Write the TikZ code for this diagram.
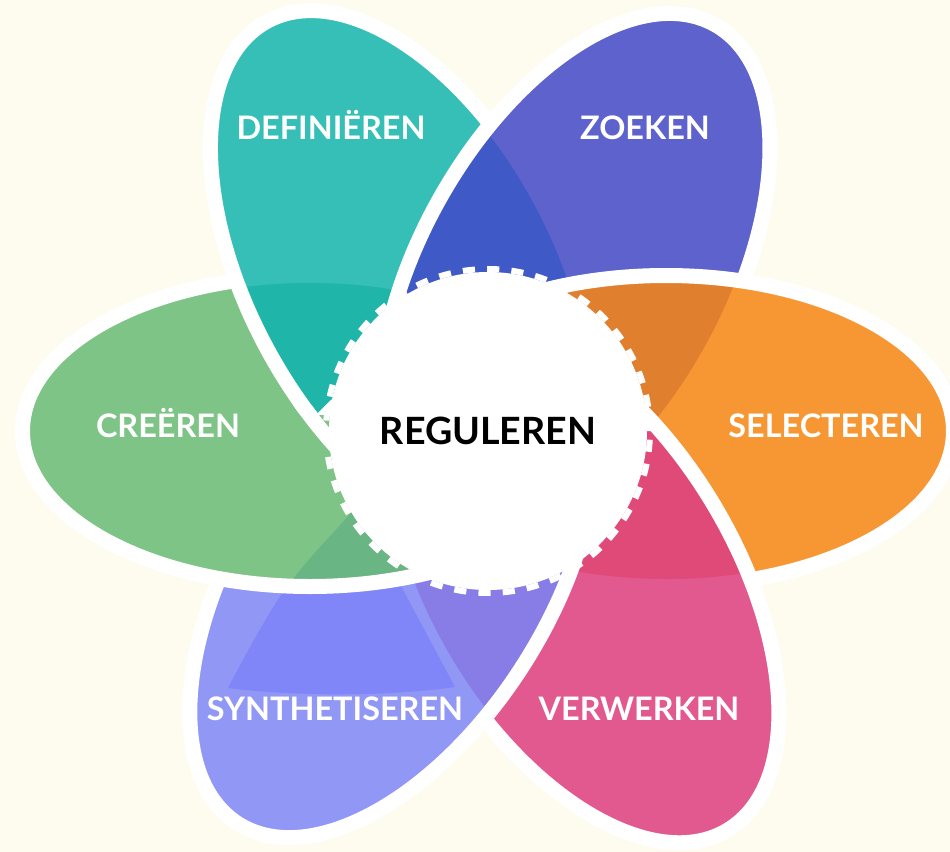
\documentclass[tikz,border=0pt]{standalone}
\usepackage{fontspec}
\setmainfont{Lato}
\usetikzlibrary{calc}

\definecolor{bgcream}{HTML}{FEFCEF}
\definecolor{creL}{HTML}{7EC487}
\definecolor{creD}{HTML}{6AB584}
\definecolor{defL}{HTML}{35BFB7}
\definecolor{defD}{HTML}{1FB5A8}
\definecolor{zoekL}{HTML}{5D62CC}
\definecolor{zoekD}{HTML}{3F5AC6}
\definecolor{selL}{HTML}{F79734}
\definecolor{selD}{HTML}{E07F2E}
\definecolor{verwL}{HTML}{E25990}
\definecolor{verwD}{HTML}{E04A78}
\definecolor{synL}{HTML}{9197F5}
\definecolor{synM}{HTML}{8085F7}
\definecolor{synD}{HTML}{887DE6}

\tikzset{
  % petal outline (middle of the rim) and inner edge
  outer/.style={x radius=287.5, y radius=155.5},
  inner/.style={x radius=280, y radius=148},
  rim/.style={draw=white, line width=7.5pt},
  lbl/.style={text=white, anchor=base, font=\bfseries\fontsize{16.2}{19}\selectfont},
  teeth/.style={draw=white, line width=3pt, dash pattern=on 6.08pt off 6.08pt},
}

\begin{document}
\begin{tikzpicture}[x=0.5pt, y=0.5pt]
    \fill[bgcream] (0,0) rectangle (950,-852);
    \useasboundingbox (0,0) rectangle (950,-852);
    \coordinate (C) at (488,-431);
    % petal centres
    \coordinate (pCre) at ($(C)+(180:178)$);
    \coordinate (pDef) at ($(C)+(118.3:178)$);
    \coordinate (pZoek) at ($(C)+(60.8:178)$);
    \coordinate (pSel) at ($(C)+(0:178)$);
    \coordinate (pVerw) at ($(C)+(-59:178)$);
    \coordinate (pSyn) at ($(C)+(-122.5:178)$);

    % CREEREN (bottom layer)
    \fill[creL, rotate around={180:(pCre)}] (pCre) ellipse [outer];
    \draw[rim, rotate around={180:(pCre)}] (pCre) ellipse [outer];

    % DEFINIEREN over CREEREN
    \fill[defL, rotate around={118.3:(pDef)}] (pDef) ellipse [outer];
    \begin{scope}
        \clip[rotate around={118.3:(pDef)}] (pDef) ellipse [outer];
        \fill[defD, rotate around={180:(pCre)}] (pCre) ellipse [inner];
    \end{scope}
    \draw[rim, rotate around={118.3:(pDef)}] (pDef) ellipse [outer];

    % ZOEKEN over DEFINIEREN
    \fill[zoekL, rotate around={60.8:(pZoek)}] (pZoek) ellipse [outer];
    \begin{scope}
        \clip[rotate around={60.8:(pZoek)}] (pZoek) ellipse [outer];
        \fill[zoekD, rotate around={118.3:(pDef)}] (pDef) ellipse [inner];
    \end{scope}
    \draw[rim, rotate around={60.8:(pZoek)}] (pZoek) ellipse [outer];

    % SELECTEREN over ZOEKEN
    \fill[selL] (pSel) ellipse [outer];
    \begin{scope}
        \clip (pSel) ellipse [outer];
        \fill[selD, rotate around={60.8:(pZoek)}] (pZoek) ellipse [inner];
    \end{scope}
    \draw[rim] (pSel) ellipse [outer];

    % VERWERKEN over SELECTEREN
    \fill[verwL, rotate around={-59:(pVerw)}] (pVerw) ellipse [outer];
    \begin{scope}
        \clip[rotate around={-59:(pVerw)}] (pVerw) ellipse [outer];
        \fill[verwD] (pSel) ellipse [inner];
    \end{scope}
    \draw[rim, rotate around={-59:(pVerw)}] (pVerw) ellipse [outer];

    % SYNTHETISEREN over VERWERKEN
    \fill[synL, rotate around={-122.5:(pSyn)}] (pSyn) ellipse [outer];
    \begin{scope}
        \clip[rotate around={-122.5:(pSyn)}] (pSyn) ellipse [outer];
        \fill[synD, rotate around={-59:(pVerw)}] (pVerw) ellipse [inner];
        \fill[synM] plot[smooth] coordinates {(372,-488) (342,-523) (312,-556) (283,-592) (255,-638) (228,-688)}
            .. controls (300,-697) and (390,-696) .. (455,-687) -- (401,-586) -- (445,-570) -- (440,-500) -- cycle;
    \end{scope}
    \draw[rim, rotate around={-122.5:(pSyn)}] (pSyn) ellipse [outer];

    % CREEREN again, lower half over SYNTHETISEREN
    \begin{scope}
        \clip (0,-415) -- (345,-415) -- (345,-431) -- (950,-431) -- (950,-852) -- (0,-852) -- cycle;
        \fill[creL, rotate around={180:(pCre)}] (pCre) ellipse [outer];
        \begin{scope}
            \clip[rotate around={180:(pCre)}] (pCre) ellipse [outer];
            \fill[creD] plot[smooth] coordinates {(372,-488) (342,-523) (312,-556) (283,-592) (255,-638) (228,-688)}
                .. controls (300,-697) and (390,-696) .. (455,-687) -- (401,-586) -- (445,-570) -- (440,-500) -- cycle;
        \end{scope}
        \draw[rim, rotate around={180:(pCre)}] (pCre) ellipse [outer];
    \end{scope}
    % tip of the DEFINIEREN rim stays on top
    \begin{scope}
        \clip (290,-405) rectangle (345,-480);
        \draw[rim, rotate around={118.3:(pDef)}] (pDef) ellipse [outer];
    \end{scope}

    % centre
    \node[circle, fill=white, inner sep=0pt, minimum size=159pt,
          font=\bfseries\fontsize{18.8}{22}\selectfont] (reg) at (C) {REGULEREN};
    \draw[teeth] (reg.center) circle (162);

    % petal labels
    \node[lbl] (def) at (331,-139) {DEFINIËREN};
    \node[lbl] (zoek) at (645,-139) {ZOEKEN};
    \node[lbl] (sel) at (826,-437) {SELECTEREN};
    \node[lbl] (cre) at (168,-437) {CREËREN};
    \node[lbl] (synth) at (335,-720) {SYNTHETISEREN};
    \node[lbl] (verw) at (639,-720) {VERWERKEN};
\end{tikzpicture}
\end{document}
